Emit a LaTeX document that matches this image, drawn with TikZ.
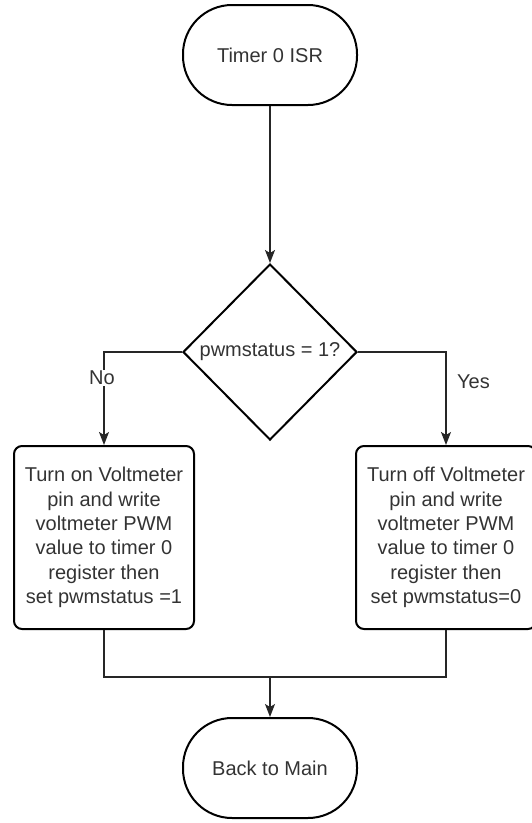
\documentclass[tikz,border=0pt]{standalone}
\usepackage{fontspec}
\setmainfont{Liberation Sans}
\usepackage{tikz}
\usetikzlibrary{arrows.meta, shapes.geometric}
\definecolor{txtgray}{HTML}{333333}
\tikzset{
  term/.style={draw, line width=2pt, rounded corners=49pt, minimum width=174pt, minimum height=100pt, text=txtgray, font=\fontsize{20}{24}\selectfont},
  decide/.style={draw, diamond, line width=2pt, inner sep=0pt, minimum width=174pt, minimum height=176pt, text=txtgray, font=\fontsize{20}{24}\selectfont},
  proc/.style={draw, line width=2pt, rounded corners=8pt, minimum width=180pt, minimum height=183pt, align=center, text=txtgray, font=\fontsize{20}{24.3}\selectfont},
  lbl/.style={text=txtgray, font=\fontsize{20}{24}\selectfont, inner sep=1pt},
  conn/.style={line width=1.4pt, black!85},
  arr/.style={conn, -{Stealth[length=13pt, width=10pt, inset=3pt]}}
}
\begin{document}
\begin{tikzpicture}[x=1pt, y=-1pt]
\useasboundingbox (0,0) rectangle (531,823);
\node[term](isr) at (270,55) {Timer 0 ISR};
%
\node[decide](pwm) at (270,352) {pwmstatus = 1?};
\draw[arr](isr) -- (pwm) {};
%
\node[proc](on) at (104,537.5) {Turn on Voltmeter\\pin and write\\voltmeter PWM\\value to timer 0\\register then\\set pwmstatus =1};
\node[proc](off) at (446,537.5) {Turn off Voltmeter\\pin and write\\voltmeter PWM\\value to timer 0\\register then\\set pwmstatus=0};
\draw[arr](pwm.west) -| (on.north) {};
\draw[arr](pwm.east) -| (off.north) {};
\node[lbl, fill=white](no) at (102,378) {No};
\node[lbl, anchor=west](yes) at (456,382) {Yes};
%
\coordinate(join) at (270,677);
\node[term](back) at (270,768) {Back to Main};
\draw[conn](on.south) |- (join) -| (off.south) {};
\draw[arr](join) -- (back) {};
\end{tikzpicture}
\end{document}
